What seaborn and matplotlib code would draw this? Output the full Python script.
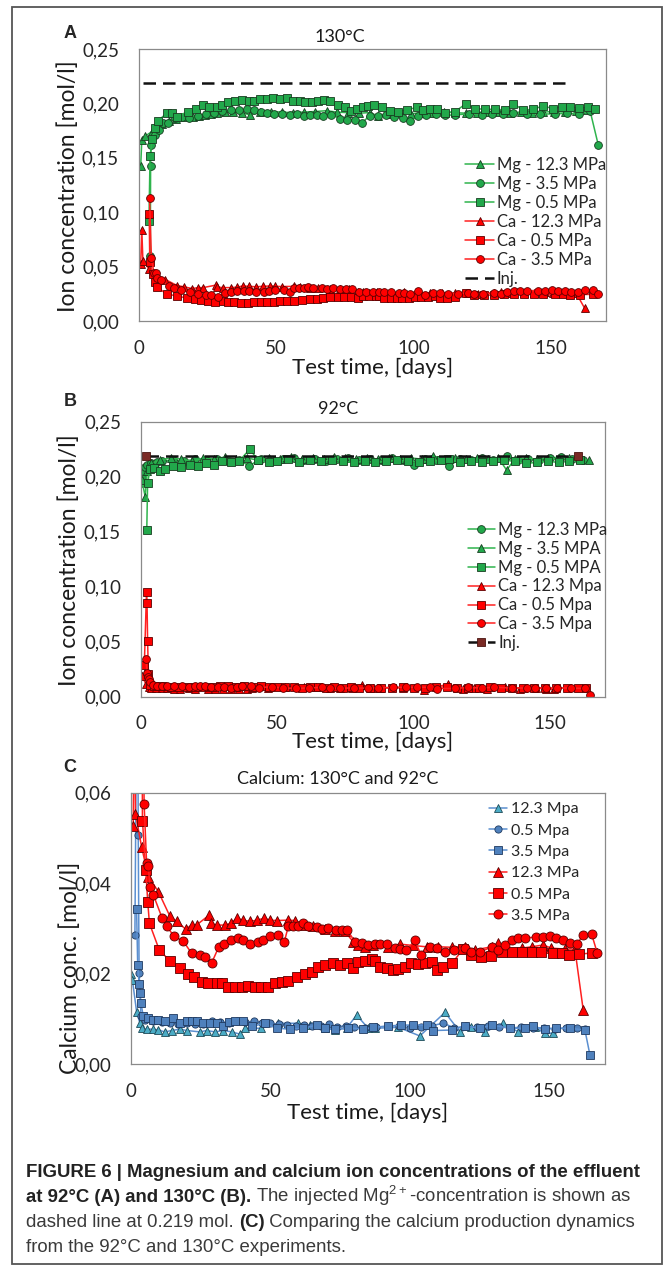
import matplotlib
matplotlib.use("Agg")
import matplotlib.pyplot as plt
import seaborn as sns
from matplotlib.patches import Rectangle
from matplotlib.ticker import FuncFormatter

# ---- data (day, mol/l) ----
# 130 C, magnesium
mg130_123 = [(0.8, 0.1425), (1.2, 0.1664), (2.5, 0.1700), (4.8, 0.1740), (6.5, 0.1780), (8.5, 0.1810),
             (11.0, 0.1840), (13.5, 0.1860), (16.9, 0.1878), (19.9, 0.1878), (22.0, 0.1885), (24.2, 0.1894),
             (26.5, 0.1900), (28.4, 0.1909), (31.5, 0.1924), (34.5, 0.1925), (37.5, 0.1915), (40.5, 0.1894),
             (44.0, 0.1920), (48.0, 0.1925), (52.0, 0.1920), (56.0, 0.1915), (60.0, 0.1920), (64.0, 0.1925),
             (68.4, 0.1933), (72.0, 0.1920), (76.0, 0.1915), (80.0, 0.1910), (84.0, 0.1915), (87.2, 0.1885),
             (91.0, 0.1905), (95.0, 0.1910), (99.0, 0.1905), (103.0, 0.1915), (107.0, 0.1910), (111.0, 0.1920),
             (115.0, 0.1915), (119.0, 0.1910), (123.0, 0.1915), (127.0, 0.1920), (131.0, 0.1920), (135.0, 0.1915),
             (139.0, 0.1920), (143.0, 0.1915), (147.0, 0.1920), (151.0, 0.1925), (155.0, 0.1920), (159.0, 0.1930),
             (163.0, 0.1940)]
mg130_35 = [(4.3, 0.0598), (4.4, 0.1425), (4.6, 0.1618), (6.0, 0.1709), (7.5, 0.1760), (9.0, 0.1817),
            (10.9, 0.1823), (13.3, 0.1863), (15.7, 0.1878), (18.5, 0.1870), (21.5, 0.1885), (24.5, 0.1900),
            (27.5, 0.1915), (30.5, 0.1930), (33.5, 0.1935), (36.5, 0.1940), (39.5, 0.1945), (42.1, 0.1939),
            (44.5, 0.1924), (46.8, 0.1909), (49.3, 0.1900), (52.0, 0.1905), (55.1, 0.1894), (57.5, 0.1898),
            (60.0, 0.1888), (62.5, 0.1895), (65.0, 0.1890), (67.2, 0.1888), (70.0, 0.1895), (73.3, 0.1860),
            (75.7, 0.1851), (78.7, 0.1851), (81.2, 0.1820), (84.0, 0.1885), (87.0, 0.1880), (90.0, 0.1890),
            (93.0, 0.1875), (96.3, 0.1863), (98.7, 0.1842), (101.5, 0.1880), (104.5, 0.1895), (108.0, 0.1900),
            (111.5, 0.1890), (115.0, 0.1895), (120.0, 0.1903), (124.8, 0.1894), (128.5, 0.1900), (132.5, 0.1905),
            (136.3, 0.1909), (141.2, 0.1903), (146.0, 0.1903), (151.5, 0.1903), (155.7, 0.1909), (160.0, 0.1905),
            (164.2, 0.1933), (167.2, 0.1617)]
mg130_05 = [(3.8, 0.0920), (4.2, 0.1517), (5.0, 0.1670), (6.0, 0.1771), (7.2, 0.1842), (10.2, 0.1909),
            (12.1, 0.1909), (13.9, 0.1878), (17.9, 0.1924), (20.8, 0.1946), (23.6, 0.1985), (25.6, 0.1970),
            (28.4, 0.1964), (30.5, 0.1982), (32.4, 0.2016), (35.1, 0.2022), (37.8, 0.2031), (40.0, 0.2025),
            (42.1, 0.2025), (44.2, 0.2037), (46.6, 0.2040), (49.0, 0.2047), (51.5, 0.2040), (53.9, 0.2047),
            (56.3, 0.2025), (58.7, 0.2025), (60.5, 0.2013), (63.0, 0.2016), (65.4, 0.2022), (67.6, 0.2031),
            (69.6, 0.2025), (72.4, 0.1985), (75.1, 0.1970), (77.3, 0.1933), (79.3, 0.1946), (81.8, 0.1970),
            (83.6, 0.1976), (85.8, 0.1988), (88.4, 0.1970), (91.5, 0.1933), (94.5, 0.1924), (97.5, 0.1939),
            (101.2, 0.1964), (103.6, 0.1939), (106.0, 0.1946), (108.4, 0.1946), (111.5, 0.1915), (115.1, 0.1924),
            (119.1, 0.1998), (122.4, 0.1952), (126.0, 0.1946), (129.7, 0.1946), (133.3, 0.1939), (136.3, 0.1998),
            (139.9, 0.1939), (143.5, 0.1946), (147.0, 0.1976), (150.9, 0.1952), (153.9, 0.1970), (156.9, 0.1970),
            (160.2, 0.1955), (163.6, 0.1964), (166.0, 0.1946)]

# 130 C, calcium
ca130_123 = [(0.8, 0.0525), (1.2, 0.0840), (1.6, 0.0553), (3.8, 0.0480), (6.2, 0.0414), (9.8, 0.0381),
             (14.0, 0.0326), (16.4, 0.0315), (19.6, 0.0298), (21.7, 0.0307), (23.5, 0.0307), (28.0, 0.0329),
             (28.7, 0.0311), (30.7, 0.0307), (33.7, 0.0307), (35.9, 0.0311), (37.9, 0.0322), (40.3, 0.0318),
             (42.7, 0.0315), (45.1, 0.0318), (47.8, 0.0322), (49.8, 0.0318), (52.2, 0.0317), (56.4, 0.0318),
             (58.8, 0.0317), (62.4, 0.0307), (65.4, 0.0304), (69.5, 0.0298), (73.1, 0.0293), (76.7, 0.0293),
             (79.7, 0.0270), (81.5, 0.0263), (83.9, 0.0259), (86.9, 0.0263), (92.3, 0.0259), (96.4, 0.0265),
             (101.0, 0.0262), (106.0, 0.0259), (110.2, 0.0259), (115.0, 0.0258), (119.8, 0.0259), (123.3, 0.0252),
             (129.3, 0.0259), (131.7, 0.0267), (134.7, 0.0254), (140.1, 0.0256), (143.7, 0.0259), (147.8, 0.0263),
             (150.8, 0.0256), (155.6, 0.0254), (159.2, 0.0254), (162.2, 0.0119)]
ca130_05 = [(3.9, 0.0980), (4.1, 0.0538), (5.3, 0.0429), (6.0, 0.0359), (6.6, 0.0311), (10.2, 0.0251),
            (14.0, 0.0228), (17.6, 0.0212), (20.6, 0.0200), (22.7, 0.0193), (25.3, 0.0182), (27.7, 0.0178),
            (30.7, 0.0180), (32.5, 0.0178), (34.9, 0.0171), (37.3, 0.0170), (39.7, 0.0170), (42.1, 0.0172),
            (44.5, 0.0171), (46.8, 0.0171), (49.2, 0.0171), (51.6, 0.0180), (54.0, 0.0182), (56.4, 0.0184),
            (59.4, 0.0192), (62.4, 0.0200), (64.8, 0.0204), (67.2, 0.0215), (69.5, 0.0219), (72.5, 0.0223),
            (74.9, 0.0219), (77.3, 0.0223), (79.7, 0.0212), (81.5, 0.0226), (83.9, 0.0228), (86.5, 0.0231),
            (87.5, 0.0228), (89.3, 0.0215), (91.7, 0.0212), (94.1, 0.0208), (95.9, 0.0209), (98.2, 0.0215),
            (100.6, 0.0224), (102.8, 0.0221), (105.4, 0.0223), (107.8, 0.0226), (109.6, 0.0208), (112.0, 0.0215),
            (115.2, 0.0223), (119.2, 0.0255), (122.1, 0.0241), (125.7, 0.0237), (129.1, 0.0239), (132.9, 0.0247),
            (136.5, 0.0248), (140.1, 0.0248), (143.7, 0.0247), (147.2, 0.0247), (151.4, 0.0245), (154.4, 0.0245),
            (157.0, 0.0241), (160.5, 0.0243), (165.2, 0.0245)]
ca130_35 = [(4.0, 0.1130), (4.7, 0.0575), (5.6, 0.0444), (6.2, 0.0438), (6.8, 0.0392), (8.0, 0.0374),
            (11.2, 0.0322), (12.8, 0.0304), (15.5, 0.0282), (18.8, 0.0271), (21.7, 0.0245), (24.7, 0.0241),
            (26.5, 0.0237), (28.9, 0.0223), (31.5, 0.0259), (33.5, 0.0265), (35.9, 0.0274), (38.5, 0.0278),
            (40.3, 0.0273), (42.7, 0.0265), (45.6, 0.0270), (47.4, 0.0274), (49.8, 0.0282), (52.8, 0.0284),
            (55.0, 0.0270), (56.4, 0.0304), (58.2, 0.0304), (60.0, 0.0304), (61.8, 0.0311), (63.6, 0.0304),
            (66.6, 0.0302), (68.4, 0.0298), (70.7, 0.0300), (73.4, 0.0296), (75.5, 0.0296), (77.6, 0.0296),
            (80.3, 0.0270), (82.7, 0.0267), (85.1, 0.0263), (87.5, 0.0266), (89.3, 0.0265), (91.7, 0.0265),
            (94.7, 0.0256), (96.4, 0.0254), (98.8, 0.0251), (101.8, 0.0273), (104.0, 0.0241), (107.2, 0.0259),
            (109.6, 0.0256), (112.6, 0.0248), (116.0, 0.0252), (119.8, 0.0256), (122.1, 0.0248), (125.1, 0.0248),
            (129.3, 0.0258), (131.7, 0.0252), (134.1, 0.0263), (136.5, 0.0274), (138.9, 0.0278), (141.3, 0.0279),
            (145.4, 0.0280), (147.8, 0.0280), (150.2, 0.0282), (152.6, 0.0278), (155.0, 0.0274), (157.4, 0.0268),
            (159.8, 0.0265), (162.2, 0.0284), (165.2, 0.0287), (167.2, 0.0246)]

# 92 C, magnesium
mg92_123 = [(0.2, 0.194), (0.6, 0.200), (1.0, 0.205), (1.5, 0.209), (2.5, 0.211), (4.0, 0.212), (6.0, 0.213),
            (8.0, 0.214), (12.0, 0.215), (16.0, 0.214), (20.0, 0.216), (24.0, 0.215), (28.0, 0.216), (32.0, 0.214),
            (36.0, 0.215), (39.7, 0.210), (44.0, 0.216), (48.0, 0.215), (52.0, 0.216), (56.0, 0.217), (60.0, 0.215),
            (64.0, 0.216), (68.0, 0.214), (72.0, 0.216), (76.0, 0.217), (80.0, 0.215), (84.0, 0.216), (88.0, 0.215),
            (92.0, 0.217), (96.0, 0.215), (100.0, 0.211), (104.0, 0.216), (108.0, 0.215), (113.0, 0.210),
            (117.0, 0.216), (121.0, 0.215), (125.0, 0.217), (129.0, 0.215), (134.0, 0.219), (138.0, 0.215),
            (142.0, 0.216), (146.0, 0.215), (150.0, 0.217), (154.0, 0.218), (158.0, 0.216), (162.0, 0.215)]
mg92_35 = [(0.5, 0.197), (1.7, 0.182), (2.5, 0.205), (4.0, 0.212), (7.0, 0.215), (11.0, 0.217), (15.0, 0.216),
           (19.0, 0.214), (23.0, 0.217), (27.0, 0.216), (31.0, 0.218), (35.0, 0.216), (39.0, 0.217), (43.0, 0.215),
           (47.0, 0.217), (51.0, 0.216), (55.0, 0.218), (59.0, 0.216), (63.0, 0.217), (67.0, 0.216), (71.0, 0.218),
           (75.0, 0.217), (79.0, 0.216), (83.0, 0.217), (87.0, 0.216), (91.0, 0.217), (95.0, 0.216), (99.0, 0.217),
           (103.0, 0.216), (107.0, 0.219), (111.0, 0.216), (115.0, 0.217), (119.0, 0.216), (123.0, 0.217),
           (127.0, 0.216), (131.0, 0.217), (134.0, 0.206), (137.0, 0.216), (141.0, 0.217), (145.0, 0.216),
           (149.0, 0.217), (153.0, 0.216), (157.0, 0.217), (161.0, 0.216), (164.0, 0.215)]
mg92_05 = [(2.3, 0.152), (2.6, 0.194), (3.5, 0.207), (5.0, 0.208), (7.0, 0.205), (9.0, 0.207), (12.0, 0.210),
           (15.0, 0.209), (18.0, 0.211), (21.0, 0.210), (24.0, 0.212), (27.0, 0.211), (30.0, 0.214), (33.0, 0.213),
           (36.0, 0.214), (40.0, 0.225), (43.0, 0.215), (47.0, 0.213), (50.0, 0.214), (54.0, 0.216), (58.0, 0.213),
           (62.0, 0.215), (66.0, 0.214), (70.0, 0.215), (74.0, 0.214), (78.0, 0.213), (82.0, 0.214), (86.0, 0.213),
           (90.0, 0.214), (94.0, 0.215), (98.0, 0.214), (102.0, 0.213), (106.0, 0.214), (110.0, 0.215),
           (113.0, 0.216), (117.0, 0.213), (121.0, 0.214), (125.0, 0.213), (129.0, 0.214), (133.0, 0.215),
           (137.0, 0.214), (141.0, 0.212), (145.0, 0.213), (149.0, 0.214), (153.0, 0.213), (157.0, 0.214),
           (161.0, 0.215)]

# 92 C, calcium
ca92_123 = [(0.0, 0.0200), (0.5, 0.0186), (2.0, 0.0116), (3.2, 0.0090), (3.8, 0.0079), (5.6, 0.0077),
            (8.0, 0.0077), (9.8, 0.0075), (12.2, 0.0071), (14.6, 0.0074), (17.6, 0.0077), (20.0, 0.0074),
            (24.7, 0.0071), (27.1, 0.0074), (30.1, 0.0071), (33.1, 0.0074), (36.1, 0.0071), (39.1, 0.0066),
            (40.9, 0.0079), (46.8, 0.0079), (52.8, 0.0090), (60.0, 0.0090), (64.2, 0.0086), (69.5, 0.0079),
            (73.1, 0.0075), (77.3, 0.0079), (80.9, 0.0108), (85.1, 0.0079), (87.5, 0.0079), (95.9, 0.0081),
            (103.6, 0.0062), (112.6, 0.0114), (118.0, 0.0071), (122.1, 0.0081), (126.9, 0.0071), (133.5, 0.0090),
            (138.9, 0.0071), (144.8, 0.0081), (148.4, 0.0068), (151.4, 0.0068)]
ca92_05 = [(1.4, 0.0285), (2.2, 0.0955), (2.4, 0.0849), (2.6, 0.0506), (2.9, 0.0202), (3.6, 0.0105),
           (5.0, 0.0097), (8.0, 0.0094), (11.0, 0.0092), (14.0, 0.0090), (17.0, 0.0089), (20.0, 0.0090),
           (23.0, 0.0088), (26.0, 0.0089), (29.0, 0.0094), (32.0, 0.0093), (35.0, 0.0091), (38.0, 0.0094),
           (41.0, 0.0092), (44.0, 0.0095), (47.0, 0.0091), (50.0, 0.0090), (53.0, 0.0088), (56.0, 0.0086),
           (59.0, 0.0083), (62.0, 0.0087), (65.0, 0.0085), (68.0, 0.0083), (71.0, 0.0088), (74.0, 0.0082),
           (77.0, 0.0085), (80.0, 0.0081), (84.0, 0.0080), (88.0, 0.0082), (92.0, 0.0083), (96.0, 0.0085),
           (100.0, 0.0080), (104.0, 0.0082), (108.0, 0.0085), (112.0, 0.0090), (116.0, 0.0080), (120.0, 0.0083),
           (124.0, 0.0081), (128.0, 0.0084), (132.0, 0.0082), (136.0, 0.0080), (140.0, 0.0081), (144.0, 0.0079),
           (148.0, 0.0080), (152.0, 0.0078), (156.0, 0.0079), (160.0, 0.0080), (163.0, 0.0078)]
ca92_35 = [(2.0, 0.0342), (2.4, 0.0219), (2.9, 0.0177), (3.2, 0.0158), (3.6, 0.0134), (4.4, 0.0105),
           (6.2, 0.0101), (8.0, 0.0097), (9.8, 0.0097), (12.2, 0.0096), (15.2, 0.0101), (17.6, 0.0091),
           (20.0, 0.0094), (21.8, 0.0094), (23.5, 0.0094), (25.9, 0.0090), (28.3, 0.0090), (30.7, 0.0090),
           (33.1, 0.0083), (35.2, 0.0092), (37.3, 0.0094), (40.3, 0.0094), (43.3, 0.0083), (48.0, 0.0090),
           (52.2, 0.0079), (57.0, 0.0077), (61.8, 0.0079), (66.6, 0.0086), (69.5, 0.0079), (73.1, 0.0077),
           (78.0, 0.0080), (83.3, 0.0077), (86.9, 0.0081), (92.3, 0.0084), (97.0, 0.0086), (101.2, 0.0086),
           (106.0, 0.0086), (108.4, 0.0074), (115.0, 0.0075), (119.8, 0.0084), (125.1, 0.0079), (129.3, 0.0086),
           (135.9, 0.0079), (141.3, 0.0079), (144.3, 0.0083), (148.4, 0.0077), (152.6, 0.0079), (157.4, 0.0079),
           (162.8, 0.0075), (164.6, 0.0020)]

# injected Mg concentration (dashed line)
inj_conc = 0.219
inj_a = [(1.5, inj_conc), (157.5, inj_conc)]
inj_b = [(2.0, inj_conc), (160.0, inj_conc)]

x_ticks = [0, 50, 100, 150]
y_ticks_ab = [0.0, 0.05, 0.10, 0.15, 0.20, 0.25]
y_ticks_c = [0.0, 0.02, 0.04, 0.06]

GREEN, GREEN_E, GREEN_L = "#22a84b", "#183d20", "#2fb44d"
RED, RED_E, RED_L = "#ff0000", "#5c0000", "#ff2020"
BLUE, BLUE_E, BLUE_L = "#4f81bd", "#1f3a60", "#5b8fd0"
TEAL, TEAL_E = "#4bacc6", "#1d4a57"

W, H = 667, 1267
sns.set_style("white")
plt.rcParams["font.family"] = ["Lato", "DejaVu Sans"]
plt.rcParams["mathtext.fontset"] = "custom"
plt.rcParams["mathtext.rm"] = "Liberation Sans"

fig = plt.figure(figsize=(W / 100, H / 100), dpi=100)


def px_rect(l, t, r, b):
    return [l / W, 1 - b / H, (r - l) / W, (b - t) / H]


def comma(v, pos):
    return f"{v:.2f}".replace(".", ",")


def series(ax, pts, marker, face, edge, line, label, ms=5.6, ls="-", lw=1.1):
    days = [p[0] for p in pts]
    vals = [p[1] for p in pts]
    sns.lineplot(x=days, y=vals, ax=ax, marker=marker, color=line, markerfacecolor=face,
                 markeredgecolor=edge, markeredgewidth=0.6, markersize=ms, linewidth=lw,
                 linestyle=ls, label=label, estimator=None, sort=False, legend=False)
    return ax.lines[-1]


def style(ax, ymax, yticks, ylabel, xlab_y, ylab_x, ylab_y):
    ax.set_xlim(0, 170)
    ax.set_ylim(0, ymax)
    ax.set_xticks(x_ticks)
    ax.set_yticks(yticks)
    ax.yaxis.set_major_formatter(FuncFormatter(comma))
    for s in ax.spines.values():
        s.set_color("#8a8a8a")
        s.set_linewidth(0.9)
    ax.tick_params(direction="in", length=4, color="#8a8a8a", labelsize=13.5, labelcolor="#262626")
    ax.tick_params(axis="x", pad=13.5)
    ax.tick_params(axis="y", pad=14)
    ax.set_xlabel("Test time, [days]", fontsize=16, color="#1a1a1a", va="center")
    ax.xaxis.set_label_coords(0.5, xlab_y)
    ax.set_ylabel(ylabel, fontsize=16.5, color="#1a1a1a", va="center")
    ax.yaxis.set_label_coords(ylab_x, ylab_y)


def legend(ax, handles, x, y, size, hl, htp, ls):
    ax.legend(handles=handles, loc="upper left", bbox_to_anchor=(x / W, 1 - y / H),
              bbox_transform=fig.transFigure, frameon=False, fontsize=size, borderpad=0,
              borderaxespad=0, handlelength=hl, handletextpad=htp, labelspacing=ls)


def title(ax, text, x, pad):
    ax.set_title(text, fontsize=13, color="#1a1a1a", x=x, pad=pad)


# ---- panel A: 130 C ----
ax_a = fig.add_axes(px_rect(138.5, 49, 606, 321))
h = []
h.append(series(ax_a, mg130_123, "^", GREEN, GREEN_E, GREEN_L, "Mg - 12.3 MPa"))
h.append(series(ax_a, mg130_35, "o", GREEN, GREEN_E, GREEN_L, "Mg - 3.5 MPa"))
h.append(series(ax_a, mg130_05, "s", GREEN, GREEN_E, GREEN_L, "Mg - 0.5 MPa"))
h.append(series(ax_a, ca130_123, "^", RED, RED_E, RED_L, "Ca - 12.3 MPa"))
h.append(series(ax_a, ca130_05, "s", RED, RED_E, RED_L, "Ca - 0.5 MPa"))
h.append(series(ax_a, ca130_35, "o", RED, RED_E, RED_L, "Ca - 3.5 MPa"))
h.append(series(ax_a, inj_a, "", "k", "k", "#111111", "Inj.", ls=(0, (5, 2.8)), lw=1.8))
style(ax_a, 0.25, y_ticks_ab, "Ion concentration [mol/l]", -0.173, -0.151, 0.496)
legend(ax_a, h, 465, 157, 12, 1.75, 0.15, 0.18)
title(ax_a, "130°C", 0.431, 5)

# ---- panel B: 92 C ----
ax_b = fig.add_axes(px_rect(140.5, 421.7, 605, 696.7))
h = []
h.append(series(ax_b, mg92_123, "o", GREEN, GREEN_E, GREEN_L, "Mg - 12.3 MPa"))
h.append(series(ax_b, mg92_35, "^", GREEN, GREEN_E, GREEN_L, "Mg - 3.5 MPA"))
h.append(series(ax_b, mg92_05, "s", GREEN, GREEN_E, GREEN_L, "Mg - 0.5 MPA"))
h.append(series(ax_b, ca92_123, "^", RED, RED_E, RED_L, "Ca - 12.3 Mpa"))
h.append(series(ax_b, ca92_05, "s", RED, RED_E, RED_L, "Ca - 0.5 Mpa"))
h.append(series(ax_b, ca92_35, "o", RED, RED_E, RED_L, "Ca - 3.5 Mpa"))
h.append(series(ax_b, inj_b, "s", "#7a2a25", "#4a1410", "#111111", "Inj.", ls=(0, (5, 2.8)), lw=1.8))
style(ax_b, 0.25, y_ticks_ab, "Ion concentration [mol/l]", -0.165, -0.154, 0.497)
legend(ax_b, h, 468, 522, 12, 1.6, 0.2, 0.17)
title(ax_b, "92°C", 0.425, 5.8)

# ---- panel C: calcium at both temperatures ----
ax_c = fig.add_axes(px_rect(131, 792.5, 605, 1064))
h = []
h.append(series(ax_c, ca92_123, "^", TEAL, TEAL_E, BLUE_L, "12.3 Mpa", ms=5.2))
h.append(series(ax_c, ca92_05, "o", BLUE, BLUE_E, BLUE_L, "0.5 Mpa", ms=5.2))
h.append(series(ax_c, ca92_35, "s", BLUE, BLUE_E, BLUE_L, "3.5 Mpa", ms=5.2))
h.append(series(ax_c, ca130_123, "^", RED, RED_E, RED_L, "12.3 MPa", ms=6.5))
h.append(series(ax_c, ca130_05, "s", RED, RED_E, RED_L, "0.5 MPa", ms=6.5))
h.append(series(ax_c, ca130_35, "o", RED, RED_E, RED_L, "3.5 MPa", ms=6.5))
style(ax_c, 0.06, y_ticks_c, "Calcium conc. [mol/l]", -0.18, -0.129, 0.354)
legend(ax_c, h, 489, 802, 11.5, 1.1, 0.3, 0.45)
title(ax_c, "Calcium: 130°C and 92°C", 0.437, 5.8)

# panel letters
for letter, ypx in [("A", 34), ("B", 401), ("C", 768)]:
    fig.text(70 / W, 1 - ypx / H, letter, fontsize=13, fontweight="bold",
             family=["Liberation Sans", "DejaVu Sans"], ha="center", va="center")

# outer frame
fig.add_artist(Rectangle((12 / W, 1 - 1264 / H), 650 / W, 1257 / H, transform=fig.transFigure,
                         fill=False, edgecolor="#555555", linewidth=1.3))

# caption, built piece by piece so bold and regular runs share a line
caption = [
    (1177, [("FIGURE 6 | Magnesium and calcium ion concentrations of the effluent", True)]),
    (1202, [("at 92°C (A) and 130°C (B).", True),
            (" The injected Mg$^{\\mathrm{2+}}$-concentration is shown as", False)]),
    (1227, [("dashed line at 0.219 mol. ", False), ("(C)", True),
            (" Comparing the calcium production dynamics", False)]),
    (1252, [("from the 92°C and 130°C experiments.", False)]),
]
renderer = fig.canvas.get_renderer()
for ypx, pieces in caption:
    x = 26 / W
    for txt, bold in pieces:
        t = fig.text(x, 1 - ypx / H, txt, fontsize=13.4, fontweight="bold" if bold else "normal",
                     family=["Liberation Sans", "DejaVu Sans"], color="#222222" if bold else "#3a3a3a",
                     ha="left", va="baseline")
        x = t.get_window_extent(renderer).x1 / fig.bbox.width

fig.savefig("out.png", dpi=100)
